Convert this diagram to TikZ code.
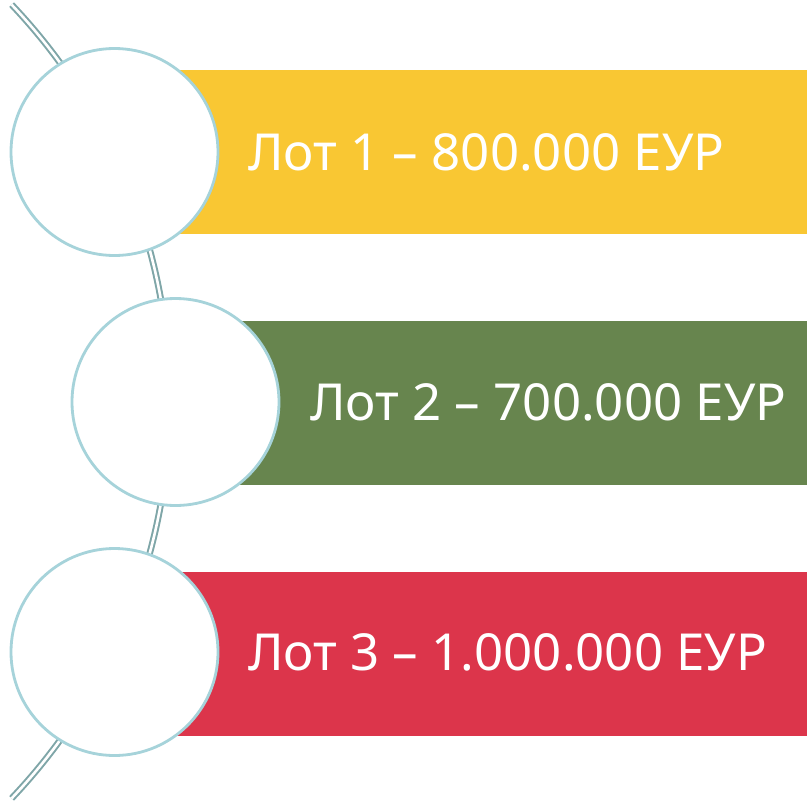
\documentclass[tikz,border=0pt]{standalone}
\usepackage{fontspec}
\setmainfont{Noto Sans}[Language=Bulgarian]
\definecolor{barY}{HTML}{F9C733}
\definecolor{barG}{HTML}{67854E}
\definecolor{barR}{HTML}{DC354B}
\definecolor{ring}{HTML}{A6D3DA}
\definecolor{arcc}{HTML}{7FA6A8}
\tikzset{
  bar/.style={draw=none},
  disc/.style={circle, draw=ring, line width=2.8pt, fill=white, minimum size=207pt, inner sep=0pt},
  lbl/.style={text=white, font=\fontsize{51pt}{55pt}\selectfont, anchor=west, inner sep=0pt},
  link/.style={draw=arcc, double=white, double distance=2.6pt, line width=2pt}
}
\begin{document}
\begin{tikzpicture}[x=1pt,y=-1pt]
\useasboundingbox (0,0) rectangle (807,801);
\draw[link] (-406.5,401.5) ++(43.5:576.5) coordinate (arcA) arc[start angle=43.5, end angle=-43.5, radius=576.5] coordinate (arcB);
\fill[barY] (114.5,70) rectangle (807,234);
\fill[barG] (175.5,321) rectangle (807,485);
\fill[barR] (114.5,572) rectangle (807,736);
\node[disc] (c1) at (114.5,152) {};
\node[disc] (c2) at (175.5,402) {};
\node[disc] (c3) at (114.5,652) {};
\node[lbl] (t1) at (248,152) {Лот 1 – 800.000 ЕУР};
\node[lbl] (t2) at (310,402) {Лот 2 – 700.000 ЕУР};
\node[lbl] (t3) at (248,652) {Лот 3 – 1.000.000 ЕУР};
\end{tikzpicture}
\end{document}
